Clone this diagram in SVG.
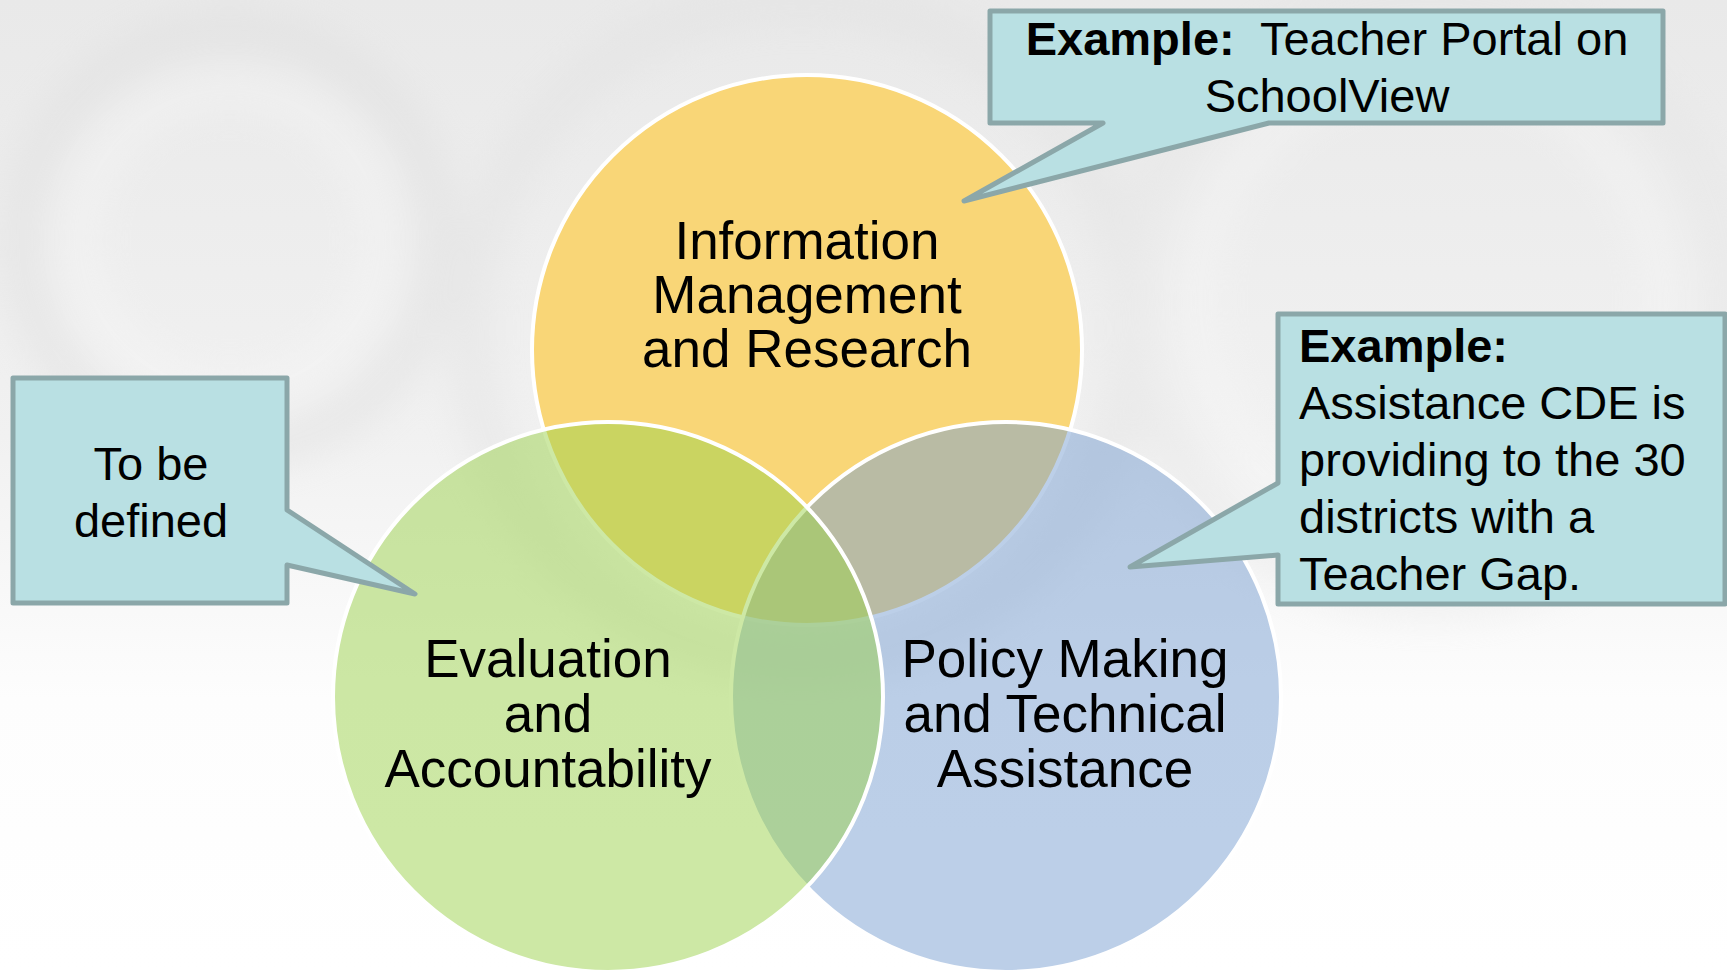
<svg xmlns="http://www.w3.org/2000/svg" width="1727" height="971" viewBox="0 0 1727 971">
<defs>
<linearGradient id="bg" x1="0" y1="0" x2="0" y2="1">
<stop offset="0" stop-color="#E9E9E9"/>
<stop offset="0.45" stop-color="#F1F1F1"/>
<stop offset="0.72" stop-color="#FDFDFD"/>
<stop offset="1" stop-color="#FFFFFF"/>
</linearGradient>
<filter id="blur" x="-20%" y="-20%" width="140%" height="140%"><feGaussianBlur stdDeviation="18"/></filter>
<style>
.circ{stroke:#FFFFFF;stroke-width:4}
.lbl{font-family:"Liberation Sans",Arial,sans-serif;font-size:53px;fill:#000;text-anchor:middle}
.call{fill:#B9E0E3;stroke:#8BA7A9;stroke-width:5;stroke-linejoin:round}
.ct{font-family:"Liberation Sans",Arial,sans-serif;font-size:47px;fill:#000}
</style>
</defs>
<rect width="1727" height="971" fill="url(#bg)"/>
<g id="background-swirls" fill="none" filter="url(#blur)" opacity="0.4">
<circle cx="230" cy="240" r="210" stroke="#DCDCDC" stroke-width="40"/>
<circle cx="230" cy="240" r="150" stroke="#F7F7F7" stroke-width="40"/>
<circle cx="800" cy="330" r="330" stroke="#E0E0E0" stroke-width="45"/>
<circle cx="1430" cy="300" r="300" stroke="#E4E4E4" stroke-width="40"/>
<circle cx="1430" cy="300" r="230" stroke="#F8F8F8" stroke-width="35"/>
</g>
<g id="node-info">
<circle class="circ" cx="807" cy="350" r="275" fill="#F9D677"/>
</g>
<g id="node-policy">
<circle class="circ" cx="1006" cy="697" r="275" fill="#799FD1" fill-opacity="0.5"/>
</g>
<g id="node-eval">
<circle class="circ" cx="608" cy="697" r="275" fill="#9BD14B" fill-opacity="0.5"/>
</g>
<g id="labels">
<text class="lbl" x="807" y="259">Information</text>
<text class="lbl" x="807" y="313">Management</text>
<text class="lbl" x="807" y="367">and Research</text>
<text class="lbl" x="548" y="677">Evaluation</text>
<text class="lbl" x="548" y="732">and</text>
<text class="lbl" x="548" y="787">Accountability</text>
<text class="lbl" x="1065" y="677">Policy Making</text>
<text class="lbl" x="1065" y="732">and Technical</text>
<text class="lbl" x="1065" y="787">Assistance</text>
</g>
<g id="connectors">
<g id="callout-top">
<path class="call" d="M990,11 H1663 V123 H1269 L964,201 L1103,123 H990 Z"/>
<text class="ct" x="1327" y="55" text-anchor="middle"><tspan font-weight="bold">Example:</tspan><tspan dx="13"> Teacher Portal on</tspan></text>
<text class="ct" x="1327" y="112" text-anchor="middle">SchoolView</text>
</g>
<g id="callout-right">
<path class="call" d="M1278,314 H1725 V604 H1278 V555 L1130,567 L1278,483 Z"/>
<text class="ct" x="1299" y="362" font-weight="bold">Example:</text>
<text class="ct" x="1299" y="419">Assistance CDE is</text>
<text class="ct" x="1299" y="476">providing to the 30</text>
<text class="ct" x="1299" y="533">districts with a</text>
<text class="ct" x="1299" y="590">Teacher Gap.</text>
</g>
<g id="callout-left">
<path class="call" d="M13,378 H287 V510 L415,594 L287,565 V603 H13 Z"/>
<text class="ct" x="151" y="480" text-anchor="middle">To be</text>
<text class="ct" x="151" y="537" text-anchor="middle">defined</text>
</g>
</g>
</svg>
